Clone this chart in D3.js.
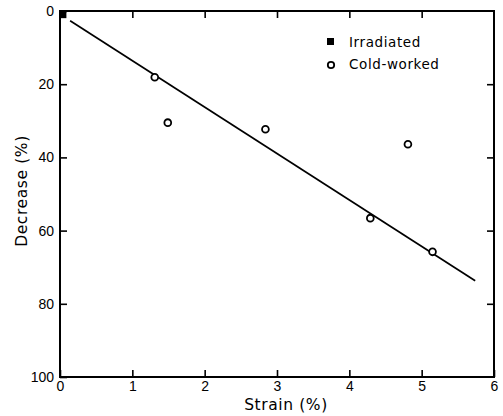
<!DOCTYPE html>
<html>
<head>
<meta charset="utf-8">
<script src="https://cdn.jsdelivr.net/npm/d3@7"></script>
<style>
  html, body { margin: 0; padding: 0; background: #fff; }
  svg { display: block; font-family: "DejaVu Sans", sans-serif; }
</style>
</head>
<body>
<svg id="chart" width="503" height="416"></svg>
<script>
// Strain (%) vs. decrease (%)
const xTicks = [0, 1, 2, 3, 4, 5, 6];
const yTicks = [0, 20, 40, 60, 80, 100];

const irradiatedStrain = [0.04];
const irradiatedDecrease = [1];

const coldStrain = [1.31, 1.49, 2.84, 4.81, 4.29, 5.15];
const coldDecrease = [18.1, 30.5, 32.3, 36.4, 56.6, 65.8];

// fitted straight line, end points
const fitStrain = [0.14, 5.74];
const fitDecrease = [2.65, 73.7];

const legendLabels = ["Irradiated", "Cold-worked"];

const svg = d3.select("#chart");
const plotL = 60, plotR = 494, plotT = 11, plotB = 377;

const x = d3.scaleLinear().domain([0, 6]).range([plotL, plotR]);
const y = d3.scaleLinear().domain([0, 100]).range([plotT, plotB]);

const ink = "#000";
const tickLen = 7;

function styleAxis(g) {
  g.select(".domain").remove();
  g.selectAll(".tick line").attr("stroke", ink).attr("stroke-width", 1.6);
  g.selectAll(".tick text").attr("fill", ink).attr("font-size", 14);
}

// bottom axis (labelled), ticks pointing in
svg.append("g")
  .attr("transform", `translate(0,${plotB})`)
  .call(d3.axisBottom(x).tickValues(xTicks).tickFormat(d3.format("d"))
        .tickSizeInner(-tickLen).tickSizeOuter(0).tickPadding(4))
  .call(styleAxis);

// left axis (labelled)
svg.append("g")
  .attr("transform", `translate(${plotL},0)`)
  .call(d3.axisLeft(y).tickValues(yTicks).tickFormat(d3.format("d"))
        .tickSizeInner(-tickLen).tickSizeOuter(0).tickPadding(6))
  .call(styleAxis);

// top and right: ticks only
svg.append("g")
  .attr("transform", `translate(0,${plotT})`)
  .call(d3.axisTop(x).tickValues(xTicks.slice(1, -1)).tickFormat("")
        .tickSizeInner(-tickLen).tickSizeOuter(0))
  .call(styleAxis);

svg.append("g")
  .attr("transform", `translate(${plotR},0)`)
  .call(d3.axisRight(y).tickValues(yTicks.slice(1, -1)).tickFormat("")
        .tickSizeInner(-tickLen).tickSizeOuter(0))
  .call(styleAxis);

// frame
svg.append("rect")
  .attr("x", plotL).attr("y", plotT)
  .attr("width", plotR - plotL).attr("height", plotB - plotT)
  .attr("fill", "none").attr("stroke", ink).attr("stroke-width", 2);

// axis titles
svg.append("text")
  .attr("x", 286).attr("y", 410)
  .attr("text-anchor", "middle").attr("font-size", 15.5)
  .attr("letter-spacing", 0.6).attr("fill", ink)
  .text("Strain (%)");

svg.append("text")
  .attr("transform", `translate(27,191) rotate(-90)`)
  .attr("text-anchor", "middle").attr("font-size", 15.5)
  .attr("letter-spacing", 0.6).attr("fill", ink)
  .text("Decrease (%)");

// fitted line
svg.append("line")
  .attr("x1", x(fitStrain[0])).attr("y1", y(fitDecrease[0]))
  .attr("x2", x(fitStrain[1])).attr("y2", y(fitDecrease[1]))
  .attr("stroke", ink).attr("stroke-width", 1.7);

// irradiated point (filled square)
svg.selectAll(".irr")
  .data(d3.zip(irradiatedStrain, irradiatedDecrease))
  .join("rect")
  .attr("x", d => x(d[0]) - 3.5).attr("y", d => y(d[1]) - 3.5)
  .attr("width", 7).attr("height", 7)
  .attr("fill", ink);

// cold-worked points (open circles)
svg.selectAll(".cold")
  .data(d3.zip(coldStrain, coldDecrease))
  .join("circle")
  .attr("cx", d => x(d[0])).attr("cy", d => y(d[1]))
  .attr("r", 3.4)
  .attr("fill", "#fff").attr("stroke", ink).attr("stroke-width", 1.8);

// legend
const lg = svg.append("g");
lg.append("rect").attr("x", 327).attr("y", 38).attr("width", 7).attr("height", 7).attr("fill", ink);
lg.append("circle").attr("cx", 331).attr("cy", 65).attr("r", 3.2)
  .attr("fill", "#fff").attr("stroke", ink).attr("stroke-width", 1.8);
lg.selectAll("text")
  .data(legendLabels)
  .join("text")
  .attr("x", 349).attr("y", (d, i) => 47 + i * 22)
  .attr("font-size", 13.5).attr("letter-spacing", 0.6).attr("fill", ink)
  .text(d => d);
</script>
</body>
</html>
